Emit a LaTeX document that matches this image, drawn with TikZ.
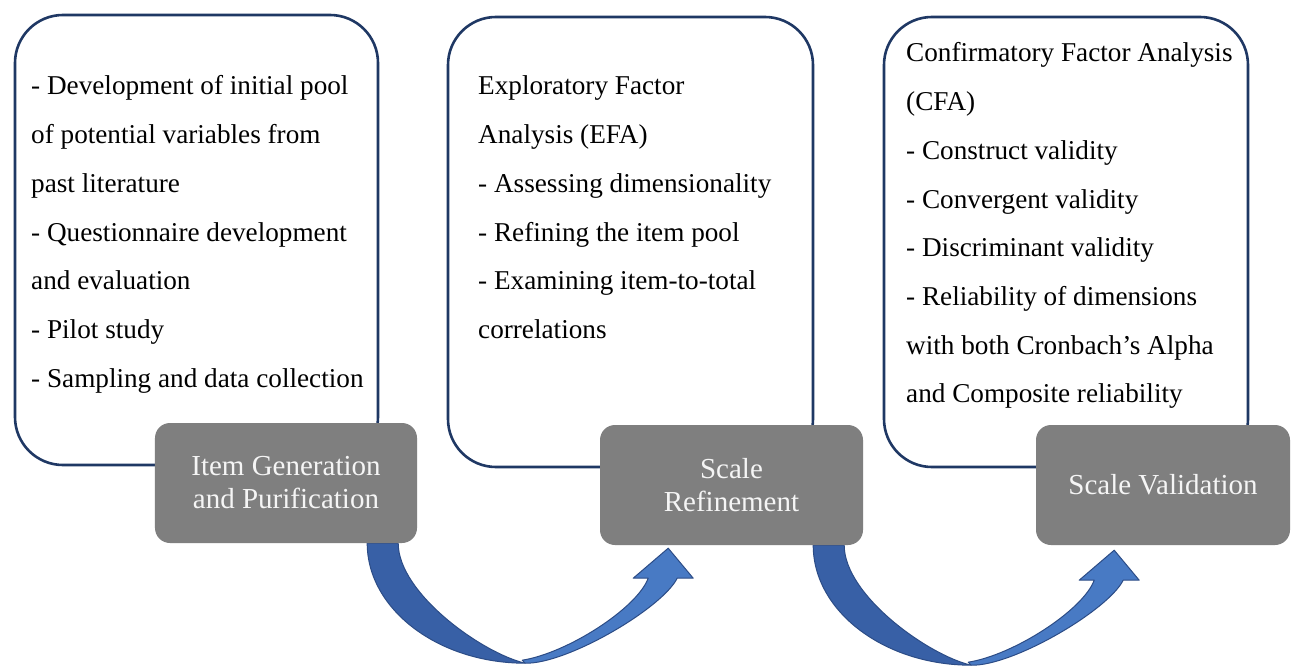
\documentclass[tikz,border=0pt]{standalone}
\usepackage{fontspec}
\setmainfont{Liberation Serif}
\usetikzlibrary{backgrounds}
\definecolor{navy}{RGB}{31,56,100}
\definecolor{boxgray}{RGB}{127,127,127}
\definecolor{graytext}{RGB}{245,245,245}
\definecolor{arrowdark}{RGB}{56,96,166}
\definecolor{arrowlight}{RGB}{72,122,196}
\definecolor{arrowline}{RGB}{44,76,134}
\newcommand\bluearc{%
  \filldraw[fill=arrowdark, draw=arrowline, line width=1bp, line join=round]
    (-50,0) .. controls (-50,66) and (21,120) .. (108,120)
    .. controls (65,110) and (-19,50) .. (-19,0) -- cycle;
  \filldraw[fill=arrowlight, draw=arrowline, line width=1bp, line join=round]
    (108,120) .. controls (150,121) and (245,65) .. (260,35)
    -- (276,35) -- (251,5) -- (216,35) -- (231,35)
    .. controls (220,65) and (150,110) .. (105,117) -- cycle;
}
\begin{document}
\begin{tikzpicture}[x=1bp,y=-1bp,
  panel/.style={draw=navy, line width=2.6bp, rounded corners=48bp, fill=white,
    minimum width=363bp, minimum height=450bp, inner sep=0},
  stage/.style={fill=boxgray, rounded corners=15bp, text=graytext, align=center,
    font=\fontsize{29bp}{33bp}\selectfont, inner sep=0, minimum height=120bp},
  txt/.style={anchor=base west, inner sep=0, font=\fontsize{27.2bp}{48.7bp}\selectfont},
]
\begin{scope}[on background layer]
  \fill[white] (0,0) rectangle (1291,670);
\end{scope}
\useasboundingbox (0,0) rectangle (1291,670);

% panels
\node[panel] (p1) at (196.5,240) {};
\node[panel, minimum width=365bp] (p2) at (630.5,242) {};
\node[panel, minimum width=364bp] (p3) at (1066,242) {};

% panel texts
\foreach \t [count=\i from 0] in {- Development of initial pool, of potential variables from,
  past literature, - Questionnaire development, and evaluation, - Pilot study,
  - Sampling and data collection}
  \node[txt] (a\i) at (31,{95+48.7*\i}) {\t};
\foreach \t [count=\i from 0] in {Exploratory Factor, Analysis (EFA), - Assessing dimensionality,
  - Refining the item pool, - Examining item-to-total, correlations}
  \node[txt] (b\i) at (478,{95+48.7*\i}) {\t};
\foreach \t [count=\i from 0] in {Confirmatory Factor Analysis, (CFA), - Construct validity,
  - Convergent validity, - Discriminant validity, - Reliability of dimensions,
  with both Cronbach’s Alpha, and Composite reliability}
  \node[txt] (c\i) at (906,{62+48.7*\i}) {\t};

% stage boxes
\node[stage, minimum width=262bp] (g1) at (286,483) {Item Generation\\and Purification};
\node[stage, minimum width=263bp] (g2) at (731.5,485) {Scale\\Refinement};
\node[stage, minimum width=254bp] (g3) at (1163,485) {Scale Validation};

% curved arrows
\begin{scope}[on background layer, shift={(g1.south east)}]
  \bluearc
\end{scope}
\begin{scope}[on background layer, shift={(g2.south east)}]
  \bluearc
\end{scope}
\end{tikzpicture}
\end{document}
